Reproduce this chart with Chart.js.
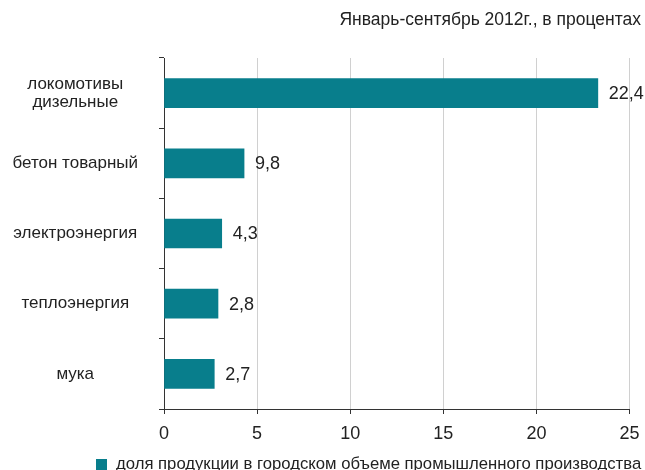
<!DOCTYPE html>
<html>
<head>
<meta charset="utf-8">
<script src="https://cdn.jsdelivr.net/npm/chart.js@4/dist/chart.umd.min.js"></script>
<style>
  html, body { margin: 0; padding: 0; background: #fff; overflow: hidden; }
  #wrap { width: 645px; height: 470px; position: relative; }
</style>
</head>
<body>
<div id="wrap"><canvas id="barChart"></canvas></div>
<script>
const categories = [['локомотивы', 'дизельные'], 'бетон товарный', 'электроэнергия', 'теплоэнергия', 'мука'];
// bar lengths as drawn in the picture (they do not follow the printed numbers)
const barValues = [23.3, 4.3, 3.1, 2.9, 2.7];
const valueLabels = ['22,4', '9,8', '4,3', '2,8', '2,7'];
const xMin = 0;
const xMax = 25;
const xStep = 5;
const seriesName = 'доля продукции в городском объеме промышленного производства';
const titleText = 'Январь-сентябрь 2012г., в процентах';

const FONT = '"Liberation Sans", Arial, sans-serif';
const TEAL = '#087e8c';
const TEXT = '#222';

const extras = {
  id: 'extras',
  afterDatasetsDraw(chart) {
    const ctx = chart.ctx;
    const meta = chart.getDatasetMeta(0);
    ctx.save();
    ctx.fillStyle = TEXT;
    ctx.font = '18px ' + FONT;
    ctx.textAlign = 'left';
    ctx.textBaseline = 'middle';
    meta.data.forEach((bar, i) => {
      ctx.fillText(valueLabels[i], bar.x + 11, bar.y + 1);
    });
    ctx.restore();
  },
  afterDraw(chart) {
    const ctx = chart.ctx;
    ctx.save();
    ctx.fillStyle = TEXT;
    ctx.font = '17.5px ' + FONT;
    ctx.textAlign = 'right';
    ctx.textBaseline = 'middle';
    ctx.fillText(titleText, 641, 20);

    ctx.fillStyle = TEAL;
    ctx.fillRect(96, 459, 11, 11);
    ctx.fillStyle = TEXT;
    ctx.font = '16.7px ' + FONT;
    ctx.textAlign = 'left';
    ctx.textBaseline = 'alphabetic';
    ctx.fillText(seriesName, 116, 469);
    ctx.restore();
  }
};

new Chart(document.getElementById('barChart'), {
  type: 'bar',
  data: {
    labels: categories,
    datasets: [{
      label: seriesName,
      data: barValues,
      backgroundColor: TEAL,
      barThickness: 29
    }]
  },
  options: {
    indexAxis: 'y',
    responsive: true,
    maintainAspectRatio: false,
    animation: false,
    layout: { padding: { top: 58, right: 15.5, left: 0, bottom: 0 } },
    plugins: {
      legend: { display: false },
      title: { display: false },
      tooltip: { enabled: false }
    },
    scales: {
      x: {
        min: xMin,
        max: xMax,
        ticks: { stepSize: xStep, color: TEXT, font: { family: FONT, size: 18 }, padding: 9 },
        grid: { color: '#d0d0d0', tickColor: '#333', tickLength: 5 },
        border: { color: '#333' },
        afterFit: s => { s.height = 61; s.paddingRight = 0; s.paddingLeft = 0; }
      },
      y: {
        ticks: { color: TEXT, font: { family: FONT, size: 17, lineHeight: 1.05 }, crossAlign: 'center', padding: 21 },
        grid: { offset: true, drawOnChartArea: false, color: '#333', tickLength: 5 },
        border: { color: '#333' },
        afterFit: s => { s.width = 164; }
      }
    }
  },
  plugins: [extras]
});
</script>
</body>
</html>
